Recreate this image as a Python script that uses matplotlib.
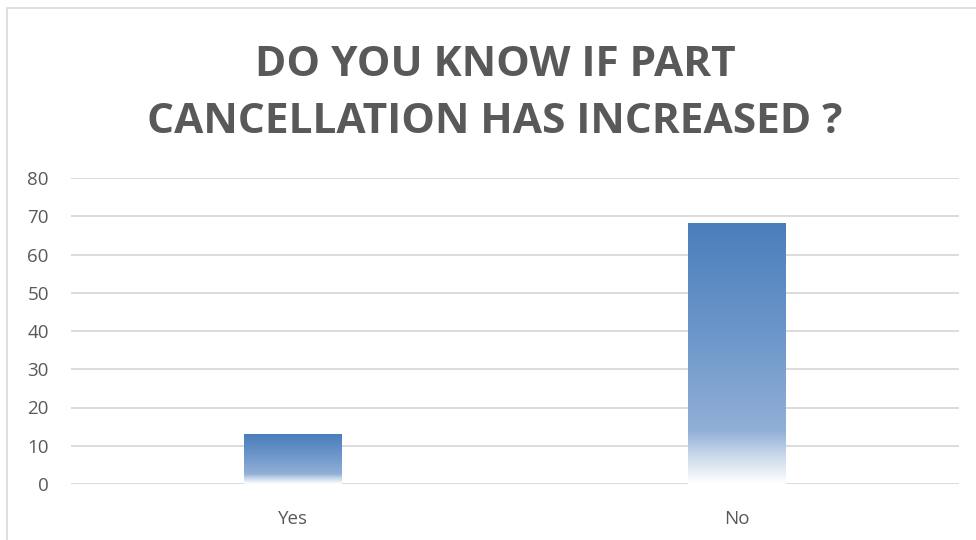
import numpy as np
import matplotlib.pyplot as plt
from matplotlib.colors import LinearSegmentedColormap
from matplotlib.patches import Rectangle

categories = ["Yes", "No"]
values = [13, 68]
y_ticks = [0, 10, 20, 30, 40, 50, 60, 70, 80]
title = "DO YOU KNOW IF PART\nCANCELLATION HAS INCREASED ?"

text_color = "#595959"
grid_color = "#d9d9d9"

# vertical fade: white at the base of each bar, blue at the top
fade = LinearSegmentedColormap.from_list(
    "fade",
    [(0.0, "#ffffff"), (0.12, "#c4d4e8"), (0.2, "#92b0d7"),
     (0.55, "#6f98cb"), (1.0, "#4a7ebb")],
)

fig = plt.figure(figsize=(9.76, 5.4), dpi=100)
fig.patch.set_facecolor("white")

# light frame around the chart
fig.add_artist(Rectangle((7 / 976, -0.01), 1.1, 1 - 8 / 540 + 0.01,
                         transform=fig.transFigure, fill=False,
                         edgecolor=grid_color, linewidth=1.2))

ax = fig.add_axes([71 / 976, 1 - 484 / 540, (959 - 71) / 976, (484 - 178) / 540])
x = np.arange(len(categories))
bars = ax.bar(x, values, width=0.22, color="none", edgecolor="none", zorder=3)

grad = np.linspace(0, 1, 256).reshape(-1, 1)
for rect in bars:
    x0 = rect.get_x()
    w = rect.get_width()
    h = rect.get_height()
    ax.imshow(grad, cmap=fade, origin="lower", aspect="auto",
              extent=(x0, x0 + w, 0, h), zorder=3, interpolation="bilinear")

ax.set_xlim(-0.5, len(categories) - 0.5)
ax.set_ylim(0, 80)
ax.set_yticks(y_ticks)
ax.set_xticks(x)
ax.set_xticklabels(categories)

for yv in y_ticks:
    ax.axhline(yv, color=grid_color, linewidth=1.3, zorder=1)

for s in ax.spines.values():
    s.set_visible(False)
ax.tick_params(axis="both", length=0, colors=text_color, labelsize=13.5)
ax.tick_params(axis="y", pad=16)
ax.tick_params(axis="x", pad=19)
for lab in ax.get_xticklabels() + ax.get_yticklabels():
    lab.set_fontfamily("Open Sans")

fig.text(495 / 976, 1 - 94 / 540, title, ha="center", va="center",
         fontsize=30.5, fontweight="bold", color=text_color,
         family="Open Sans", linespacing=1.5)

fig.savefig("out.png", dpi=100, facecolor="white")
